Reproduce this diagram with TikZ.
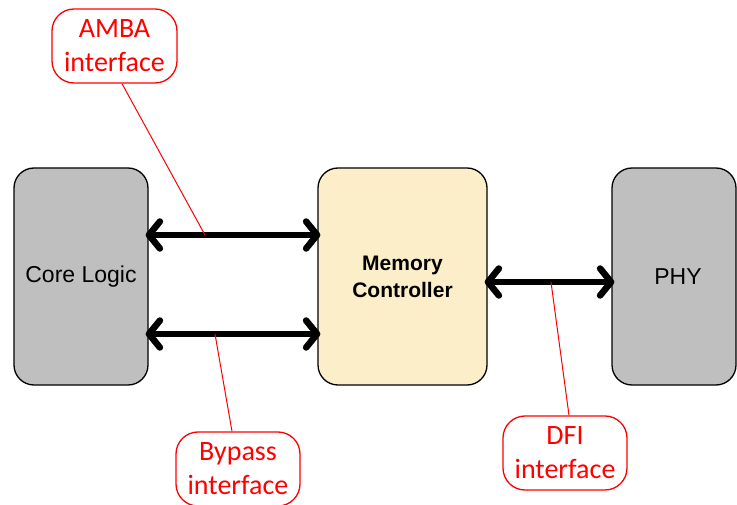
\documentclass[tikz,border=0pt]{standalone}
\usepackage{fontspec}
\setmainfont{Liberation Sans}
\newfontfamily\calloutfont{Carlito}
\usetikzlibrary{arrows.meta}
\definecolor{blockgray}{HTML}{BFBFBF}
\definecolor{ctrlcream}{HTML}{FDEECA}
\definecolor{notered}{HTML}{FF0000}
\tikzset{
  block/.style={draw=black, line width=1.3pt, rounded corners=20pt, inner sep=0pt,
    font=\fontsize{23}{27}\selectfont, align=center},
  callout/.style={draw=notered, line width=1.3pt, rounded corners=22pt, inner sep=0pt,
    minimum width=124pt, minimum height=74pt, text=notered,
    font=\calloutfont\fontsize{28}{34}\selectfont, align=center},
  link/.style={line width=6.5pt, line cap=round, shorten <=-3pt, shorten >=-3pt,
    {Straight Barb[round, length=11pt, width=27pt]}-{Straight Barb[round, length=11pt, width=27pt]}},
  leader/.style={draw=notered, line width=1pt}
}
\begin{document}
\begin{tikzpicture}[x=1pt, y=-1pt]
  \useasboundingbox (0,0) rectangle (737,505);

  % functional blocks
  \node[block, fill=blockgray, minimum width=134pt, minimum height=217pt] (core) at (81,276.5) {Core Logic};
  \node[block, fill=ctrlcream, minimum width=169pt, minimum height=217pt,
        font=\bfseries\fontsize{21}{27}\selectfont] (mc) at (402.5,276.5) {Memory\\Controller};
  \node[block, fill=blockgray, minimum width=124pt, minimum height=217pt] (phy) at (674,276.5) {\hspace*{8pt}PHY};

  % interfaces between blocks
  \draw[link] (core.east |- 0,235) -- (mc.west |- 0,235);
  \draw[link] (core.east |- 0,334) -- (mc.west |- 0,334);
  \draw[link] (mc.east |- 0,282) -- (phy.west |- 0,282);

  % points where the labels attach
  \coordinate (ambaPt) at (205,235);
  \coordinate (bypassPt) at (215,334);
  \coordinate (dfiPt) at (551,282);

  % interface labels
  \node[callout, minimum width=125pt] (amba) at (114.5,46) {AMBA\\interface};
  \node[callout] (bypass) at (238,469) {Bypass\\interface};
  \node[callout] (dfi) at (565,453) {DFI\\interface};

  \draw[leader] (amba.south -| 122,0) -- (ambaPt);
  \draw[leader] (bypass.north -| 232,0) -- (bypassPt);
  \draw[leader] (dfi.north -| 569,0) -- (dfiPt);
\end{tikzpicture}
\end{document}
